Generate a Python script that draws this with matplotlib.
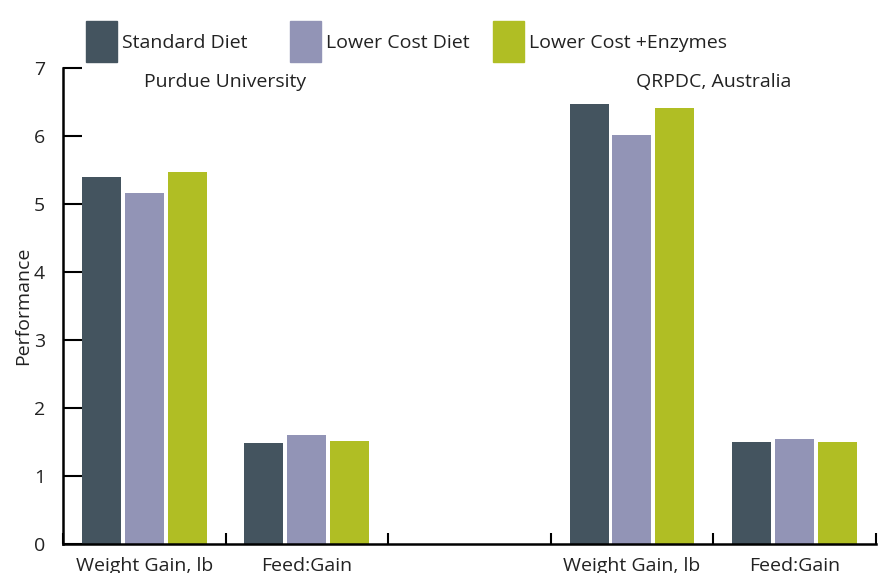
import matplotlib
matplotlib.use("Agg")
import matplotlib.pyplot as plt
from matplotlib.patches import Patch
import numpy as np

plt.rcParams['font.family'] = ['Open Sans', 'DejaVu Sans']

categories = ["Weight Gain, lb", "Feed:Gain", "", "Weight Gain, lb", "Feed:Gain"]
series = ["Standard Diet", "Lower Cost Diet", "Lower Cost +Enzymes"]
standard = [5.40, 1.49, np.nan, 6.47, 1.50]
lower_cost = [5.17, 1.60, np.nan, 6.01, 1.55]
enzymes = [5.48, 1.51, np.nan, 6.41, 1.50]
colors = ["#44545f", "#9294b6", "#b0be24"]
sites = ["Purdue University", "QRPDC, Australia"]
site_pos = [0.5, 3.5]

fig = plt.figure(figsize=(8.82, 5.73), dpi=100)
ax = fig.add_axes([0.0714, 0.0506, 0.9216, 0.8304])

x = np.arange(len(categories))
w = 0.24
step = 0.264
for i, vals in enumerate([standard, lower_cost, enzymes]):
    ax.bar(x + (i - 1) * step, vals, width=w, color=colors[i])

ax.set_xlim(-0.5, len(categories) - 0.5)
ax.set_ylim(0, 7)
ax.set_yticks(range(8))
ax.tick_params(axis='y', direction='in', length=14, width=1.5, labelsize=14,
               pad=13, labelcolor='#222222')
ax.set_xticks(x)
ax.set_xticklabels(categories, fontsize=14, color='#222222')
ax.tick_params(axis='x', length=0, pad=9)
ax.set_xticks(np.arange(-0.5, len(categories)), minor=True)
ax.tick_params(axis='x', which='minor', direction='in', length=8, width=1.5)

for s in ['top', 'right']:
    ax.spines[s].set_visible(False)
for s in ['left', 'bottom']:
    ax.spines[s].set_linewidth(1.8)

ax.set_ylabel("Performance", fontsize=14, labelpad=1, color='#222222')

for pos, name in zip(site_pos, sites):
    ax.text(pos, 6.8, name, ha='center', va='center', fontsize=14, color='#222222')

# one legend per entry so each sits at its own spot above the axes
legend_x = [0.028, 0.279, 0.529]
for name, c, lx in zip(series, colors, legend_x):
    leg = ax.legend(handles=[Patch(color=c, label=name)], loc='lower left',
                    bbox_to_anchor=(lx, 1.012), frameon=False, fontsize=14,
                    handlelength=1.6, handleheight=2.9, handletextpad=0.25,
                    borderpad=0, borderaxespad=0)
    for t in leg.get_texts():
        t.set_color('#222222')
    ax.add_artist(leg)
ax.legend_ = None

fig.savefig("out.png", dpi=100)
